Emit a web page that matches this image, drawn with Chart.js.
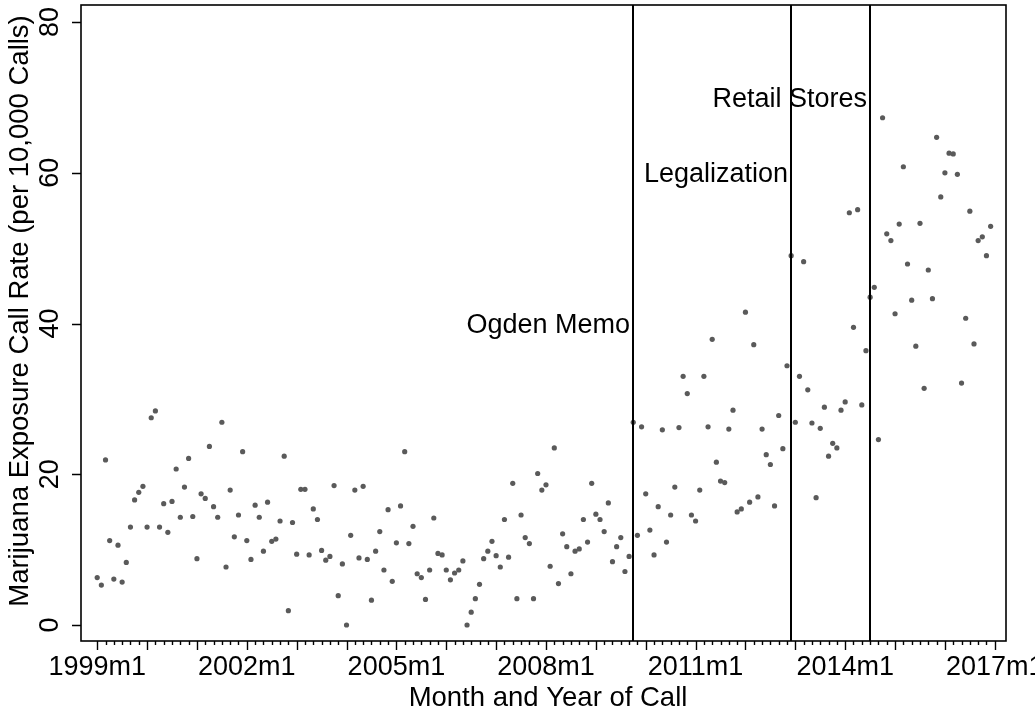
<!DOCTYPE html>
<html>
<head>
<meta charset="utf-8">
<script src="https://cdn.jsdelivr.net/npm/chart.js@4.4.1/dist/chart.umd.min.js"></script>
<style>
  html, body { margin: 0; padding: 0; background: #fff; }
  #wrap { width: 1035px; height: 715px; }
</style>
</head>
<body>
<div id="wrap"><canvas id="myChart" width="1035" height="715"></canvas></div>
<script>
// monthly call rate, 1999m1 .. 2016m12 (one row per year)
const rates = [
  6.3, 5.3, 21.9, 11.2, 6.1, 10.6, 5.7, 8.3, 13.0, 16.6, 17.6, 18.4,
  13.0, 27.5, 28.4, 13.0, 16.1, 12.3, 16.4, 20.7, 14.3, 18.3, 22.1, 14.4,
  8.8, 17.4, 16.8, 23.7, 15.7, 14.3, 26.9, 7.7, 17.9, 11.7, 14.6, 23.0,
  11.2, 8.7, 15.9, 14.3, 9.8, 16.3, 11.1, 11.4, 13.8, 22.4, 1.9, 13.6,
  9.4, 18.0, 18.0, 9.3, 15.4, 14.0, 9.9, 8.6, 9.1, 18.5, 3.9, 8.1,
  0.0, 11.9, 17.9, 8.9, 18.4, 8.7, 3.3, 9.8, 12.4, 7.3, 15.3, 5.8,
  10.9, 15.8, 23.0, 10.8, 13.1, 6.8, 6.3, 3.4, 7.3, 14.2, 9.5, 9.3,
  7.3, 6.0, 6.9, 7.3, 8.5, 0.0, 1.7, 3.5, 5.4, 8.8, 9.8, 11.1,
  9.2, 7.7, 14.0, 9.0, 18.8, 3.5, 14.6, 11.6, 10.8, 3.5, 20.1, 17.9,
  18.6, 7.8, 23.5, 5.5, 12.1, 10.4, 6.8, 9.8, 10.1, 14.0, 11.0, 18.8,
  14.7, 14.0, 12.4, 16.2, 8.4, 10.4, 11.6, 7.1, 9.1, 26.9, 11.9, 26.3,
  17.4, 12.6, 9.3, 15.7, 25.9, 11.0, 14.6, 18.3, 26.2, 33.0, 30.7, 14.6,
  13.8, 17.9, 33.0, 26.3, 37.9, 21.6, 19.1, 18.9, 26.0, 28.5, 15.0, 15.4,
  41.5, 16.3, 37.2, 17.0, 26.0, 22.6, 21.3, 15.8, 27.8, 23.4, 34.4, 49.0,
  26.9, 33.0, 48.2, 31.2, 26.8, 16.9, 26.1, 28.9, 22.4, 24.1, 23.5, 28.5,
  29.6, 54.7, 39.5, 55.1, 29.2, 36.4, 43.5, 44.8, 24.6, 67.3, 51.9, 51.0,
  41.3, 53.2, 60.8, 47.9, 43.1, 37.0, 53.3, 31.4, 47.1, 43.3, 64.7, 56.8,
  60.0, 62.6, 62.5, 59.8, 32.1, 40.7, 54.9, 37.3, 51.0, 51.5, 49.0, 52.9
];
const startYear = 1999;
const xLabelMonths = [0, 36, 72, 108, 144, 180, 216];
const yTickValues = [0, 20, 40, 60, 80];
const eventMonths = [129, 167, 186];
const eventLabels = ["Ogden Memo", "Legalization", "Retail Stores"];
const eventLabelY = [40, 60, 70];
const xTitle = "Month and Year of Call";
const yTitle = "Marijuana Exposure Call Rate (per 10,000 Calls)";

const FONT = "'Liberation Sans', Arial, Helvetica, sans-serif";
const FSIZE = 27;
const TSIZE = 27.5;
Chart.defaults.font.family = FONT;
Chart.defaults.color = "#000";

function monthLabel(m) {
  return `${startYear + Math.floor(m / 12)}m${(m % 12) + 1}`;
}

// frame, tick marks, axis titles and event lines
const stataPlugin = {
  id: "stata",
  afterDatasetsDraw(chart) {
    const { ctx, chartArea: a, scales: { x, y } } = chart;
    ctx.save();
    ctx.strokeStyle = "#000";
    ctx.lineWidth = 2;
    eventMonths.forEach((m, i) => {
      const px = Math.round(x.getPixelForValue(m));
      ctx.beginPath();
      ctx.moveTo(px, a.top);
      ctx.lineTo(px, a.bottom);
      ctx.stroke();
      ctx.font = `${FSIZE}px ${FONT}`;
      ctx.fillStyle = "#000";
      ctx.textAlign = "right";
      ctx.textBaseline = "middle";
      ctx.fillText(eventLabels[i], px - 3, y.getPixelForValue(eventLabelY[i]) + 2);
    });
    ctx.restore();
  },
  afterDraw(chart) {
    const { ctx, chartArea: a, scales: { x, y } } = chart;
    ctx.save();
    ctx.strokeStyle = "#000";
    ctx.lineWidth = 1.6;
    ctx.strokeRect(a.left, a.top, a.right - a.left, a.bottom - a.top);
    ctx.lineWidth = 1.4;
    ctx.beginPath();
    for (let m = 0; m <= 216; m += 2) {
      const px = Math.round(x.getPixelForValue(m)) + 0.5;
      const len = m % 12 === 0 ? 9 : 4;
      ctx.moveTo(px, a.bottom);
      ctx.lineTo(px, a.bottom + len);
    }
    yTickValues.forEach(v => {
      const py = Math.round(y.getPixelForValue(v)) + 0.5;
      ctx.moveTo(a.left, py);
      ctx.lineTo(a.left - 9, py);
    });
    ctx.stroke();

    ctx.fillStyle = "#000";
    ctx.font = `${TSIZE}px ${FONT}`;
    ctx.textAlign = "center";
    ctx.textBaseline = "middle";
    ctx.fillText(xTitle, 548, 698);
    ctx.translate(20, 311);
    ctx.rotate(-Math.PI / 2);
    ctx.fillText(yTitle, 0, 0);
    ctx.restore();
  }
};

const data = {
  datasets: [{
    data: rates.map((v, i) => ({ x: i, y: v })),
    backgroundColor: "#5a5a5a",
    borderWidth: 0,
    pointRadius: 2.6
  }]
};

const config = {
  type: "scatter",
  data,
  options: {
    responsive: false,
    animation: false,
    devicePixelRatio: 1,
    layout: { padding: { top: 5, right: 29, left: 0, bottom: 0 } },
    plugins: { legend: { display: false }, tooltip: { enabled: false } },
    scales: {
      x: {
        type: "linear",
        min: -3.9,
        max: 218.7,
        afterBuildTicks(s) { s.ticks = xLabelMonths.map(v => ({ value: v })); },
        afterFit(s) { s.height = 74; s.paddingLeft = 0; s.paddingRight = 0; },
        grid: { display: false, drawTicks: false },
        border: { display: false },
        ticks: {
          autoSkip: false,
          maxRotation: 0,
          padding: 10,
          font: { size: FSIZE },
          callback: v => monthLabel(v)
        }
      },
      y: {
        min: -2.12,
        max: 82.26,
        afterBuildTicks(s) { s.ticks = yTickValues.map(v => ({ value: v })); },
        afterFit(s) { s.width = 81; s.paddingTop = 0; s.paddingBottom = 0; },
        grid: { display: false, drawTicks: false },
        border: { display: false },
        ticks: {
          minRotation: 90,
          maxRotation: 90,
          crossAlign: "center",
          padding: 15,
          font: { size: FSIZE }
        }
      }
    }
  },
  plugins: [stataPlugin]
};

new Chart(document.getElementById("myChart").getContext("2d"), config);
</script>
</body>
</html>
